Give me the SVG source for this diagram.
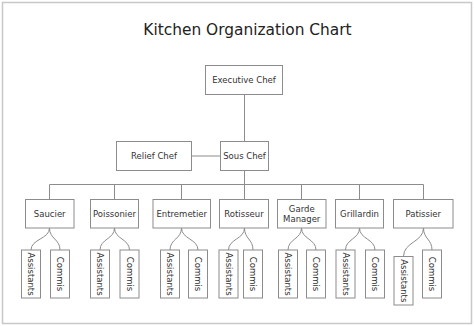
<svg xmlns="http://www.w3.org/2000/svg" width="474" height="326" viewBox="0 0 474 326">
<style>
.bg{fill:#fff;stroke:#c8c8c8;stroke-width:1.5}
.box{fill:#fff;stroke:#8c8c8c;stroke-width:1}
.ln{fill:none;stroke:#8c8c8c;stroke-width:1}
.t{font-family:"DejaVu Sans",Verdana,sans-serif;font-size:8.5px;fill:#333;text-anchor:middle;dominant-baseline:central}
.title{font-family:"DejaVu Sans",Verdana,sans-serif;font-size:15.4px;fill:#222;text-anchor:middle}
</style>
<rect class="bg" x="2.5" y="2.5" width="469" height="321"/>
<text class="title" x="247.5" y="35">Kitchen Organization Chart</text>
<g id="connectors">
<path class="ln" d="M244.5,94.5V141.5M244.5,170.5V199.5M191.5,156H220.5M49.5,184.5H423.5M49.5,184.5V199.5M114.5,184.5V199.5M181.5,184.5V199.5M301.5,184.5V199.5M359.5,184.5V199.5M423.5,184.5V199.5"/>
<path class="ln" d="M49.5,228C49.5,239 31,239 31,250M49.5,228C49.5,239 60,239 60,250"/>
<path class="ln" d="M114.5,228C114.5,239 100,239 100,250M114.5,228C114.5,239 129.5,239 129.5,250"/>
<path class="ln" d="M181.5,228C181.5,239 170,239 170,250M181.5,228C181.5,239 198,239 198,250"/>
<path class="ln" d="M244.5,228C244.5,239 228.5,239 228.5,250M244.5,228C244.5,239 253,239 253,250"/>
<path class="ln" d="M301.5,228C301.5,239 288,239 288,250M301.5,228C301.5,239 316,239 316,250"/>
<path class="ln" d="M359.5,228C359.5,239 345.5,239 345.5,250M359.5,228C359.5,239 375,239 375,250"/>
<path class="ln" d="M423.5,228C423.5,242 403.5,242 403.5,256.5M423.5,228C423.5,239 432,239 432,250"/>
</g>
<g id="executive-chef"><rect class="box" x="205.5" y="65.5" width="77" height="29"/><text class="t" x="244" y="80">Executive Chef</text></g>
<g id="relief-chef"><rect class="box" x="116.5" y="141.5" width="75" height="29"/><text class="t" x="154" y="156">Relief Chef</text></g>
<g id="sous-chef"><rect class="box" x="220.5" y="141.5" width="48" height="29"/><text class="t" x="244.5" y="156">Sous Chef</text></g>
<g id="saucier"><rect class="box" x="25.5" y="199.5" width="48.5" height="28.5"/><text class="t" x="49.75" y="213.75">Saucier</text></g>
<g id="poissonier"><rect class="box" x="90.5" y="199.5" width="48" height="28.5"/><text class="t" x="114.5" y="213.75">Poissonier</text></g>
<g id="entremetier"><rect class="box" x="153" y="199.5" width="57.5" height="28.5"/><text class="t" x="181.75" y="213.75">Entremetier</text></g>
<g id="rotisseur"><rect class="box" x="219.5" y="199.5" width="49" height="28.5"/><text class="t" x="244" y="213.75">Rotisseur</text></g>
<g id="garde-manager"><rect class="box" x="277.5" y="199.5" width="48.5" height="28.5"/><text class="t" x="301.75" y="208.7">Garde</text><text class="t" x="301.75" y="219">Manager</text></g>
<g id="grillardin"><rect class="box" x="335.5" y="199.5" width="48" height="28.5"/><text class="t" x="359.5" y="213.75">Grillardin</text></g>
<g id="patissier"><rect class="box" x="393.5" y="199.5" width="59.5" height="28.5"/><text class="t" x="423.25" y="213.75">Patissier</text></g>
<g id="saucier-assistants"><rect class="box" x="21.5" y="250" width="19" height="48"/><text class="t" transform="translate(31,274) rotate(90)">Assistants</text></g>
<g id="saucier-commis"><rect class="box" x="50.5" y="250" width="19" height="48"/><text class="t" transform="translate(60,274) rotate(90)">Commis</text></g>
<g id="poissonier-assistants"><rect class="box" x="90.5" y="250" width="19" height="48"/><text class="t" transform="translate(100,274) rotate(90)">Assistants</text></g>
<g id="poissonier-commis"><rect class="box" x="120" y="250" width="19" height="48"/><text class="t" transform="translate(129.5,274) rotate(90)">Commis</text></g>
<g id="entremetier-assistants"><rect class="box" x="160.5" y="250" width="19" height="48"/><text class="t" transform="translate(170,274) rotate(90)">Assistants</text></g>
<g id="entremetier-commis"><rect class="box" x="188.5" y="250" width="19" height="48"/><text class="t" transform="translate(198,274) rotate(90)">Commis</text></g>
<g id="rotisseur-assistants"><rect class="box" x="219" y="250" width="19" height="48"/><text class="t" transform="translate(228.5,274) rotate(90)">Assistants</text></g>
<g id="rotisseur-commis"><rect class="box" x="243.5" y="250" width="19" height="48"/><text class="t" transform="translate(253,274) rotate(90)">Commis</text></g>
<g id="garde-manager-assistants"><rect class="box" x="278.5" y="250" width="19" height="48"/><text class="t" transform="translate(288,274) rotate(90)">Assistants</text></g>
<g id="garde-manager-commis"><rect class="box" x="306.5" y="250" width="19" height="48"/><text class="t" transform="translate(316,274) rotate(90)">Commis</text></g>
<g id="grillardin-assistants"><rect class="box" x="336" y="250" width="19" height="48"/><text class="t" transform="translate(345.5,274) rotate(90)">Assistants</text></g>
<g id="grillardin-commis"><rect class="box" x="365.5" y="250" width="19" height="48"/><text class="t" transform="translate(375,274) rotate(90)">Commis</text></g>
<g id="patissier-assistants"><rect class="box" x="394" y="256.5" width="19" height="48.5"/><text class="t" transform="translate(403.5,280.75) rotate(90)">Assistants</text></g>
<g id="patissier-commis"><rect class="box" x="422.5" y="250" width="19" height="48"/><text class="t" transform="translate(432,274) rotate(90)">Commis</text></g>
</svg>
